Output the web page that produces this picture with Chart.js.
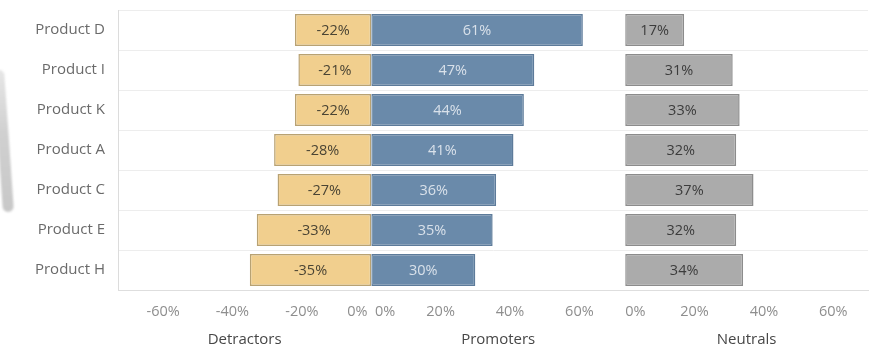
<!DOCTYPE html>
<html>
<head>
<meta charset="utf-8">
<script src="https://cdn.jsdelivr.net/npm/chart.js@4/dist/chart.umd.min.js"></script>
<style>
  html, body { margin: 0; padding: 0; background: #ffffff; }
  #wrap { position: relative; width: 872px; height: 349px; overflow: hidden; }
  #wrap canvas { position: absolute; left: 0; top: 0; }
  #swoosh {
    position: absolute; left: -2px; top: 70px; width: 11px; height: 142px;
    border-radius: 2px 6px 7px 7px;
    background: linear-gradient(#e6e6e6, #d0d0d0 45%, #c8c8c8);
    transform: rotate(-4deg); filter: blur(0.8px);
  }
</style>
</head>
<body>
<div id="wrap">
  <canvas id="nps" width="872" height="349"></canvas>
  <div id="swoosh"></div>
</div>
<script>
// Survey response shares per product
const products   = ['Product D', 'Product I', 'Product K', 'Product A', 'Product C', 'Product E', 'Product H'];
const detractors = [-22, -21, -22, -28, -27, -33, -35];
const promoters  = [61, 47, 44, 41, 36, 35, 30];
const neutrals   = [17, 31, 33, 32, 37, 32, 34];

// Tick values shown under each panel
const detractorTicks = [-60, -40, -20, 0];
const promoterTicks  = [0, 20, 40, 60];
const neutralTicks   = [0, 20, 40, 60];

const panelTitles = ['Detractors', 'Promoters', 'Neutrals'];

// Axis extents of the three side-by-side panels
const detractorRange = [-73, 0];
const promoterRange  = [0, 73.2];
const neutralRange   = [0, 70];

const FONT = "'Open Sans', 'DejaVu Sans', sans-serif";
const labelColors = ['#4a4434', '#d9e1ea', '#3c3c3c'];

// One linear x axis per panel; the panels share the bottom edge as a horizontal stack.
// `edge` pads the label sitting on the shared zero line so neighbouring labels don't touch.
function panelAxis(range, tickValues, title, edge) {
  const [min, max] = range;
  return {
    type: 'linear',
    position: 'bottom',
    stack: 'panels',
    stackWeight: max - min,
    min: min,
    max: max,
    grid: { display: false, drawTicks: true, tickLength: 13 },
    border: { display: true, color: '#dedede', width: 1 },
    afterBuildTicks: (scale) => {
      const vals = Array.from(new Set([min, ...tickValues, max])).sort((a, b) => a - b);
      scale.ticks = vals.map(v => ({ value: v }));
    },
    ticks: {
      align: 'inner',
      autoSkip: false,
      maxRotation: 0,
      padding: 0,
      color: '#8e8e8e',
      font: { family: FONT, size: 14.5 },
      callback: (v) => {
        if (!tickValues.includes(v)) return '';
        const text = v + '%';
        if (v === 0 && edge === 'right') return text + ' ';
        if (v === 0 && edge === 'left') return ' ' + text;
        return text;
      }
    },
    title: {
      display: true,
      text: title,
      color: '#474747',
      font: { family: FONT, size: 15 },
      padding: { top: 4, bottom: 0 }
    },
    afterFit: (scale) => { scale.height = 59; }
  };
}

// Writes each bar's value in the middle of the bar
const barValueLabels = {
  id: 'barValueLabels',
  afterDatasetsDraw(chart) {
    const ctx = chart.ctx;
    chart.data.datasets.forEach((ds, i) => {
      const meta = chart.getDatasetMeta(i);
      meta.data.forEach((bar, j) => {
        ctx.save();
        ctx.font = '14.5px ' + FONT;
        ctx.fillStyle = labelColors[i];
        ctx.textAlign = 'center';
        ctx.textBaseline = 'middle';
        ctx.fillText(ds.data[j] + '%', (bar.x + bar.base) / 2, bar.y + 1);
        ctx.restore();
      });
    });
  }
};

new Chart(document.getElementById('nps'), {
  type: 'bar',
  data: {
    labels: products,
    datasets: [
      {
        label: panelTitles[0], data: detractors, xAxisID: 'xDet',
        backgroundColor: '#f1cf8e', borderColor: '#b8a273', borderWidth: 1.5, borderSkipped: false
      },
      {
        label: panelTitles[1], data: promoters, xAxisID: 'xPro',
        backgroundColor: '#6a8aaa', borderColor: '#5d7b9a', borderWidth: 1.5, borderSkipped: false
      },
      {
        label: panelTitles[2], data: neutrals, xAxisID: 'xNeu',
        backgroundColor: '#ababab', borderColor: '#8c8c8c', borderWidth: 1.5, borderSkipped: false
      }
    ]
  },
  options: {
    indexAxis: 'y',
    responsive: false,
    animation: false,
    events: [],
    layout: { padding: { left: 0, right: 4, top: 10, bottom: 0 } },
    datasets: { bar: { grouped: false, categoryPercentage: 1, barPercentage: 0.8 } },
    plugins: { legend: { display: false }, tooltip: { enabled: false } },
    scales: {
      y: {
        type: 'category',
        grid: { color: '#ededed', offset: true, drawTicks: true, tickLength: 13, tickColor: 'rgba(0,0,0,0)' },
        border: { display: true, color: '#dcdcdc' },
        ticks: { color: '#6a6a6a', font: { family: FONT, size: 15 }, padding: 0 },
        afterFit: (scale) => { scale.width = 118; }
      },
      xDet: panelAxis(detractorRange, detractorTicks, panelTitles[0], 'right'),
      xPro: panelAxis(promoterRange, promoterTicks, panelTitles[1], 'left'),
      xNeu: panelAxis(neutralRange, neutralTicks, panelTitles[2], 'none')
    }
  },
  plugins: [barValueLabels]
});
</script>
</body>
</html>
